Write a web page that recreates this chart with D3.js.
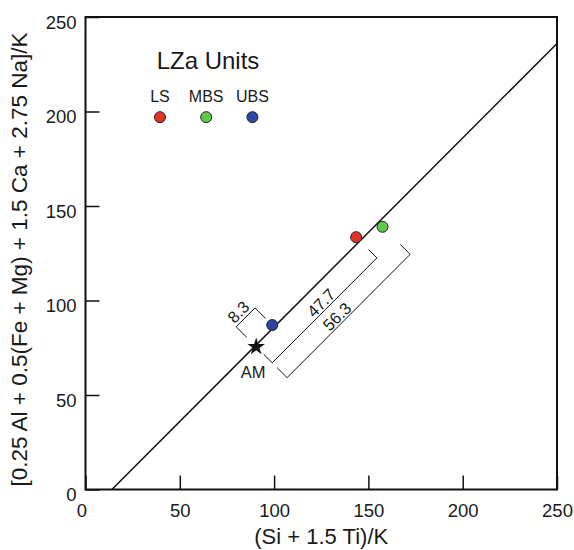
<!DOCTYPE html>
<html lang="en">
<head>
<meta charset="UTF-8">
<title>LZa Units</title>
<script src="https://cdn.jsdelivr.net/npm/d3@7"></script>
<style>
    body {margin: 0; background: #fff;}
    text {font-family: "Liberation Sans", Arial, sans-serif; fill: #1a1a1a;}
</style>
</head>
<body>
<script>
    // data
    var units = ["LS", "MBS", "UBS"];
    var unitColors = ["#e2332a", "#5ec94b", "#2c46a2"];
    var unitX = [143.5, 157.5, 99];
    var unitY = [133.5, 139, 87];
    var legendX = [39.5, 64, 88.5];
    var legendY = 197;
    var am = {x: 90.5, y: 75.5};
    var lineX = [14, 250];
    var lineY = [0, 236];
    var gapTo = [2, 0, 1];
    var gapLabels = ["8.3", "47.7", "56.3"];
    var majorTicks = [0, 50, 100, 150, 200, 250];
    var minorTicks = d3.range(0, 251, 10);

    var svg = d3.select("body").append("svg").attr("width", 574).attr("height", 550);

    var x = d3.scaleLinear().domain([0, 250]).range([85.5, 557]);
    var y = d3.scaleLinear().domain([0, 250]).range([489.5, 17]);

    // ticks (inward)
    var gx = svg.append("g").attr("transform", "translate(0," + y(0) + ")");
    gx.call(d3.axisBottom(x).tickValues(minorTicks).tickSize(-7).tickFormat(""));
    gx.call(d3.axisBottom(x).tickValues(majorTicks).tickSize(-14).tickPadding(14));
    var gy = svg.append("g").attr("transform", "translate(" + x(0) + ",0)");
    gy.call(d3.axisLeft(y).tickValues(minorTicks).tickSize(-7).tickFormat(""));
    gy.call(d3.axisLeft(y).tickValues(majorTicks).tickSize(-14).tickPadding(9));
    svg.selectAll(".domain").remove();
    svg.selectAll(".tick line").attr("stroke", "#111").attr("stroke-width", 1.5);
    svg.selectAll(".tick text").attr("font-size", "18.5px").attr("fill", "#1a1a1a")
        .style("font-family", "'Liberation Sans', Arial, sans-serif");
    gy.selectAll(".tick text").attr("dy", "0.6em");
    gx.selectAll(".tick text").filter(function (d) { return d === 0; }).attr("x", -4);

    // frame
    svg.append("rect").attr("x", x(0)).attr("y", y(250))
        .attr("width", x(250) - x(0)).attr("height", y(0) - y(250))
        .attr("fill", "none").attr("stroke", "#111").attr("stroke-width", 2);

    // reference line
    svg.append("line").attr("x1", x(lineX[0])).attr("y1", y(lineY[0]))
        .attr("x2", x(lineX[1])).attr("y2", y(lineY[1]))
        .attr("stroke", "#111").attr("stroke-width", 1.5);

    // brackets along the line
    var L0 = [x(lineX[0]), y(lineY[0])];
    var dx = x(lineX[1]) - L0[0], dy = y(lineY[1]) - L0[1];
    var len = Math.sqrt(dx * dx + dy * dy);
    var u = [dx / len, dy / len];
    var n = [-u[1], u[0]];
    var angle = Math.atan2(u[1], u[0]) * 180 / Math.PI;
    var up = [Math.sin(angle * Math.PI / 180), -Math.cos(angle * Math.PI / 180)];

    function foot(px, py) {
        var t = (px - L0[0]) * u[0] + (py - L0[1]) * u[1];
        return [L0[0] + u[0] * t, L0[1] + u[1] * t];
    }

    var bracketLayout = [
        {side: -1, inner: 12, outer: 27, frac: 0.45, gap: 3},
        {side: 1, inner: 12, outer: 24, frac: 0.52, gap: 2},
        {side: 1, inner: 31, outer: 45, frac: 0.45, gap: 2}
    ];

    gapTo.forEach(function (k, i) {
        var b = bracketLayout[i];
        var fa = foot(x(am.x), y(am.y));
        var fb = foot(x(unitX[k]), y(unitY[k]));
        var off = function (p, d) { return [p[0] + n[0] * b.side * d, p[1] + n[1] * b.side * d]; };
        var pts = [off(fa, b.inner), off(fa, b.outer), off(fb, b.outer), off(fb, b.inner)];
        svg.append("path").attr("d", d3.line()(pts))
            .attr("fill", "none").attr("stroke", "#111").attr("stroke-width", 1);
        var mid = [fa[0] + (fb[0] - fa[0]) * b.frac, fa[1] + (fb[1] - fa[1]) * b.frac];
        var base = off(mid, b.outer);
        var pos = [base[0] + up[0] * b.gap, base[1] + up[1] * b.gap];
        svg.append("text").attr("text-anchor", "middle").attr("font-size", "16.5px")
            .attr("transform", "translate(" + pos[0] + "," + pos[1] + ") rotate(" + angle + ")")
            .text(gapLabels[i]);
    });

    // AM
    svg.append("path").attr("d", d3.symbol(d3.symbolStar, 95)())
        .attr("transform", "translate(" + x(am.x) + "," + y(am.y) + ")").attr("fill", "#111");
    svg.append("text").attr("x", x(am.x) - 3).attr("y", y(am.y) + 31)
        .attr("text-anchor", "middle").attr("font-size", "16.5px").text("AM");

    // data points
    svg.selectAll(".pt").data(units).enter().append("circle").attr("class", "pt")
        .attr("cx", function (d, i) { return x(unitX[i]); })
        .attr("cy", function (d, i) { return y(unitY[i]); })
        .attr("r", 5.5)
        .attr("fill", function (d, i) { return unitColors[i]; })
        .attr("stroke", "#222").attr("stroke-width", 1);

    // legend
    svg.append("text").attr("x", 208).attr("y", 69).attr("text-anchor", "middle")
        .attr("font-size", "24px").text("LZa Units");
    svg.selectAll(".lg").data(units).enter().append("circle").attr("class", "lg")
        .attr("cx", function (d, i) { return x(legendX[i]); })
        .attr("cy", y(legendY))
        .attr("r", 5.5)
        .attr("fill", function (d, i) { return unitColors[i]; })
        .attr("stroke", "#222").attr("stroke-width", 1);
    svg.selectAll(".lgt").data(units).enter().append("text").attr("class", "lgt")
        .attr("x", function (d, i) { return x(legendX[i]); })
        .attr("y", 101.5).attr("text-anchor", "middle").attr("font-size", "16px")
        .text(function (d) { return d; });

    // axis titles
    svg.append("text").attr("x", (x(0) + x(250)) / 2).attr("y", 544)
        .attr("text-anchor", "middle").attr("font-size", "22px").text("(Si + 1.5 Ti)/K");
    svg.append("text").attr("transform", "translate(27,259.5) rotate(-90)")
        .attr("text-anchor", "middle").attr("font-size", "22.5px")
        .text("[0.25 Al + 0.5(Fe + Mg) + 1.5 Ca + 2.75 Na]/K");
</script>
</body>
</html>
